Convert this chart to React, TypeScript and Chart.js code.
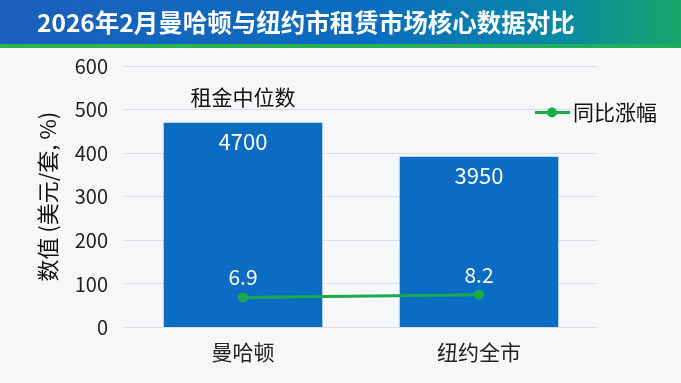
import { useEffect, useRef } from "react";
import { Chart, registerables } from "chart.js";

Chart.register(...registerables);

const titleText = "2026年2月曼哈顿与纽约市租赁市场核心数据对比";
const categories = ["曼哈顿", "纽约全市"];
const rentValues = [470, 392];
const rentLabels = ["4700", "3950"];
const growthValues = [69, 75];
const growthLabels = ["6.9", "8.2"];
const yMin = 0;
const yMax = 600;
const yStep = 100;
const rentName = "租金中位数";
const growthName = "同比涨幅";
const yTitle = "数值 (美元/套, %)";

const FONT = '"Noto Sans CJK SC", "Noto Sans", sans-serif';
const BAR_COLOR = "#0b6cc4";
const LINE_COLOR = "#1aaa4c";

const decorPlugin = {
  id: "decor",
  beforeDraw(chart: any) {
    const { ctx, width, height } = chart;
    ctx.save();
    ctx.fillStyle = "#f6f7f9";
    ctx.fillRect(0, 0, width, height);
    const g = ctx.createLinearGradient(0, 0, width, 0);
    g.addColorStop(0, "#1b60bb");
    g.addColorStop(0.55, "#0a6dbf");
    g.addColorStop(0.82, "#0a88a6");
    g.addColorStop(1, "#19a66a");
    ctx.fillStyle = g;
    ctx.fillRect(0, 0, width, 44);
    const s = ctx.createLinearGradient(0, 0, width, 0);
    s.addColorStop(0, "#2db34f");
    s.addColorStop(1, "#1fae5c");
    ctx.fillStyle = s;
    ctx.fillRect(0, 44, width, 4);
    ctx.fillStyle = "#ffffff";
    ctx.font = `bold 24.5px ${FONT}`;
    ctx.textBaseline = "middle";
    ctx.textAlign = "left";
    ctx.fillText(titleText, 37, 23);
    ctx.restore();
  },
  afterDatasetsDraw(chart: any) {
    const { ctx } = chart;
    ctx.save();
    ctx.textAlign = "center";
    ctx.textBaseline = "middle";
    ctx.fillStyle = "#ffffff";
    const barMeta = chart.getDatasetMeta(0);
    ctx.font = `22px ${FONT}`;
    barMeta.data.forEach((el: any, i: number) => {
      ctx.fillText(rentLabels[i], el.x, el.y + 19);
    });
    const lineMeta = chart.getDatasetMeta(1);
    ctx.font = `21px ${FONT}`;
    lineMeta.data.forEach((el: any, i: number) => {
      ctx.fillText(growthLabels[i], el.x, el.y - 20);
    });
    const xs = chart.scales.x;
    ctx.fillStyle = "#111111";
    ctx.font = `21px ${FONT}`;
    ctx.fillText(rentName, xs.getPixelForValue(0), 97);
    ctx.strokeStyle = LINE_COLOR;
    ctx.lineWidth = 3;
    ctx.beginPath();
    ctx.moveTo(535, 112.5);
    ctx.lineTo(570, 112.5);
    ctx.stroke();
    ctx.fillStyle = LINE_COLOR;
    ctx.beginPath();
    ctx.arc(552, 112.5, 5, 0, Math.PI * 2);
    ctx.fill();
    ctx.fillStyle = "#111111";
    ctx.textAlign = "left";
    ctx.fillText(growthName, 573, 112);
    ctx.restore();
  },
};

export default function App() {
  const ref = useRef<HTMLCanvasElement>(null);
  useEffect(() => {
    if (!ref.current) return;
    const chart = new Chart(ref.current, {
      type: "bar",
      data: {
        labels: categories,
        datasets: [
          {
            type: "bar",
            label: rentName,
            data: rentValues,
            backgroundColor: BAR_COLOR,
            barPercentage: 0.84,
            categoryPercentage: 0.8,
            order: 1,
          } as any,
          {
            type: "line",
            label: growthName,
            data: growthValues,
            borderColor: LINE_COLOR,
            backgroundColor: LINE_COLOR,
            borderWidth: 3,
            pointRadius: 5,
            pointBackgroundColor: LINE_COLOR,
            pointBorderWidth: 0,
            order: 0,
          } as any,
        ],
      },
      options: {
        animation: false,
        responsive: true,
        maintainAspectRatio: false,
        layout: { padding: { top: 66, right: 84, left: 0, bottom: 0 } },
        plugins: {
          legend: { display: false },
          title: { display: false },
          tooltip: { enabled: false },
        },
        scales: {
          x: {
            grid: { display: false, drawTicks: false, tickLength: 0 },
            border: { display: false },
            ticks: { color: "#222222", font: { family: FONT, size: 21 }, padding: 12 },
            afterFit: (s: any) => {
              s.height = 55.5;
            },
          },
          y: {
            min: yMin,
            max: yMax,
            grid: { color: "#dcdde1", lineWidth: 1, drawTicks: false, tickLength: 0 },
            border: { display: false },
            ticks: {
              stepSize: yStep,
              color: "#222222",
              font: { family: FONT, size: 20 },
              padding: 17,
            },
            title: {
              display: true,
              text: yTitle,
              color: "#111111",
              font: { family: FONT, size: 22 },
              padding: { top: 34, bottom: 0 },
            },
            afterFit: (s: any) => {
              s.width = 125;
            },
          },
        },
      },
      plugins: [decorPlugin],
    });
    return () => chart.destroy();
  }, []);
  return (
    <div style={{ position: "fixed", left: 0, top: 0, width: 681, height: 383 }}>
      <canvas ref={ref} />
    </div>
  );
}
